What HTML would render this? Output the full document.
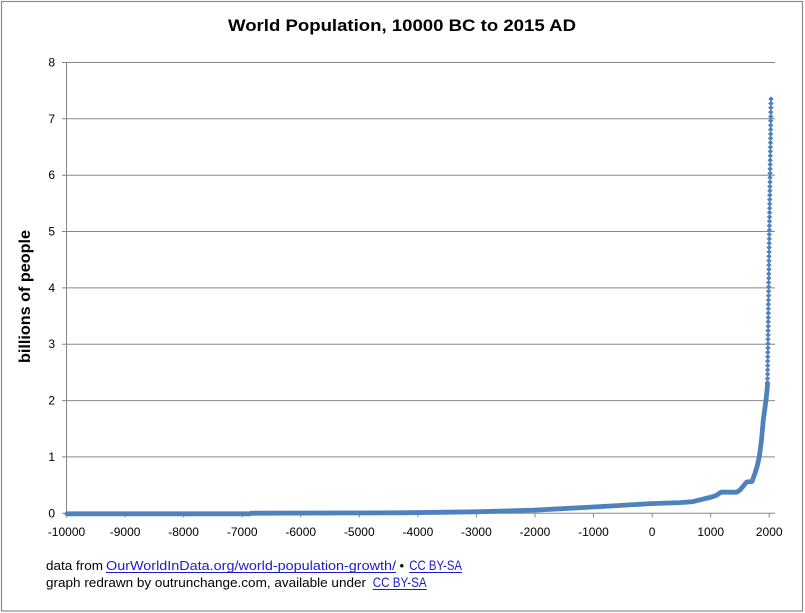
<!DOCTYPE html>
<html><head><meta charset="utf-8"><style>
html,body{margin:0;padding:0;background:#fff;}
svg{display:block;}
</style></head><body>
<svg width="805" height="613" viewBox="0 0 805 613" xmlns="http://www.w3.org/2000/svg" font-family="'Liberation Sans', 'DejaVu Sans', sans-serif">
<rect x="0" y="0" width="805" height="613" fill="#fff"/>
<rect x="1.5" y="1.5" width="801" height="609.5" fill="none" stroke="#8a8a8a" stroke-width="1.2"/>
<text x="402" y="31" text-anchor="middle" font-size="17" font-weight="bold" fill="#000" textLength="348" lengthAdjust="spacingAndGlyphs">World Population,  10000 BC to 2015 AD</text>
<g stroke="#868686" stroke-width="1" fill="none">
<path d="M62,62.5H775M62,118.8H775M62,175.2H775M62,231.5H775M62,287.9H775M62,344.2H775M62,400.6H775M62,456.9H775M62,513.3H775"/>
<path d="M66.5,62V513.3"/>
<path d="M66.5,513V517.5M125.1,513V517.5M183.6,513V517.5M242.2,513V517.5M300.7,513V517.5M359.3,513V517.5M417.9,513V517.5M476.4,513V517.5M535,513V517.5M593.5,513V517.5M652.1,513V517.5M710.7,513V517.5M769.2,513V517.5"/>
</g>
<g font-size="12" fill="#000" text-anchor="end">
<text x="55" y="66.5">8</text>
<text x="55" y="122.8">7</text>
<text x="55" y="179.2">6</text>
<text x="55" y="235.5">5</text>
<text x="55" y="291.9">4</text>
<text x="55" y="348.2">3</text>
<text x="55" y="404.6">2</text>
<text x="55" y="460.9">1</text>
<text x="55" y="517.3">0</text>
</g>
<g font-size="12" fill="#000" text-anchor="middle">
<text x="66.5" y="536">-10000</text>
<text x="125.1" y="536">-9000</text>
<text x="183.6" y="536">-8000</text>
<text x="242.2" y="536">-7000</text>
<text x="300.7" y="536">-6000</text>
<text x="359.3" y="536">-5000</text>
<text x="417.9" y="536">-4000</text>
<text x="476.4" y="536">-3000</text>
<text x="535" y="536">-2000</text>
<text x="593.5" y="536">-1000</text>
<text x="652.1" y="536">0</text>
<text x="710.7" y="536">1000</text>
<text x="769.2" y="536">2000</text>
</g>
<text transform="translate(30,296.5) rotate(-90)" text-anchor="middle" font-size="16" font-weight="bold" fill="#000" textLength="133" lengthAdjust="spacingAndGlyphs">billions of people</text>
<polyline fill="none" stroke="#4F81BD" stroke-width="4.8" stroke-linejoin="round" stroke-linecap="round" points="67,513.8 250,513.8 251,513.2 400,512.8 476,511.8 534,510.2 593,507 651,503.6 680,502.6 693,501.6 711.7,497 716,495.5 721,492.2 736.7,492.2 740,490 746.7,482 752,481.5 755,473.3 757.5,465 759.3,456.7 761.5,440 763.3,420 766,400 767.3,388 767.5,383"/>
<path fill="#4F81BD" stroke="#4F81BD" stroke-width="0.4" d="M771,96.5l2.5,2.5l-2.5,2.5l-2.5,-2.5zM770.9,100.9l2.5,2.5l-2.5,2.5l-2.5,-2.5zM770.9,105.2l2.5,2.5l-2.5,2.5l-2.5,-2.5zM770.8,109.6l2.5,2.5l-2.5,2.5l-2.5,-2.5zM770.8,114l2.5,2.5l-2.5,2.5l-2.5,-2.5zM770.7,118.3l2.5,2.5l-2.5,2.5l-2.5,-2.5zM770.7,122.7l2.5,2.5l-2.5,2.5l-2.5,-2.5zM770.6,127.1l2.5,2.5l-2.5,2.5l-2.5,-2.5zM770.6,131.5l2.5,2.5l-2.5,2.5l-2.5,-2.5zM770.5,135.8l2.5,2.5l-2.5,2.5l-2.5,-2.5zM770.5,140.2l2.5,2.5l-2.5,2.5l-2.5,-2.5zM770.4,144.6l2.5,2.5l-2.5,2.5l-2.5,-2.5zM770.3,148.9l2.5,2.5l-2.5,2.5l-2.5,-2.5zM770.3,153.3l2.5,2.5l-2.5,2.5l-2.5,-2.5zM770.2,157.7l2.5,2.5l-2.5,2.5l-2.5,-2.5zM770.2,162l2.5,2.5l-2.5,2.5l-2.5,-2.5zM770.1,166.4l2.5,2.5l-2.5,2.5l-2.5,-2.5zM770.1,170.8l2.5,2.5l-2.5,2.5l-2.5,-2.5zM770,175.1l2.5,2.5l-2.5,2.5l-2.5,-2.5zM770,179.5l2.5,2.5l-2.5,2.5l-2.5,-2.5zM769.9,183.9l2.5,2.5l-2.5,2.5l-2.5,-2.5zM769.9,188.2l2.5,2.5l-2.5,2.5l-2.5,-2.5zM769.8,192.6l2.5,2.5l-2.5,2.5l-2.5,-2.5zM769.7,197l2.5,2.5l-2.5,2.5l-2.5,-2.5zM769.7,201.4l2.5,2.5l-2.5,2.5l-2.5,-2.5zM769.6,205.7l2.5,2.5l-2.5,2.5l-2.5,-2.5zM769.6,210.1l2.5,2.5l-2.5,2.5l-2.5,-2.5zM769.5,214.5l2.5,2.5l-2.5,2.5l-2.5,-2.5zM769.5,218.8l2.5,2.5l-2.5,2.5l-2.5,-2.5zM769.4,223.2l2.5,2.5l-2.5,2.5l-2.5,-2.5zM769.4,227.6l2.5,2.5l-2.5,2.5l-2.5,-2.5zM769.3,231.9l2.5,2.5l-2.5,2.5l-2.5,-2.5zM769.3,236.3l2.5,2.5l-2.5,2.5l-2.5,-2.5zM769.2,240.7l2.5,2.5l-2.5,2.5l-2.5,-2.5zM769.1,245l2.5,2.5l-2.5,2.5l-2.5,-2.5zM769.1,249.4l2.5,2.5l-2.5,2.5l-2.5,-2.5zM769,253.8l2.5,2.5l-2.5,2.5l-2.5,-2.5zM769,258.2l2.5,2.5l-2.5,2.5l-2.5,-2.5zM768.9,262.5l2.5,2.5l-2.5,2.5l-2.5,-2.5zM768.9,266.9l2.5,2.5l-2.5,2.5l-2.5,-2.5zM768.8,271.3l2.5,2.5l-2.5,2.5l-2.5,-2.5zM768.8,275.6l2.5,2.5l-2.5,2.5l-2.5,-2.5zM768.7,280l2.5,2.5l-2.5,2.5l-2.5,-2.5zM768.7,284.4l2.5,2.5l-2.5,2.5l-2.5,-2.5zM768.6,288.7l2.5,2.5l-2.5,2.5l-2.5,-2.5zM768.6,293.1l2.5,2.5l-2.5,2.5l-2.5,-2.5zM768.5,297.5l2.5,2.5l-2.5,2.5l-2.5,-2.5zM768.4,301.8l2.5,2.5l-2.5,2.5l-2.5,-2.5zM768.4,306.2l2.5,2.5l-2.5,2.5l-2.5,-2.5zM768.3,310.6l2.5,2.5l-2.5,2.5l-2.5,-2.5zM768.3,315l2.5,2.5l-2.5,2.5l-2.5,-2.5zM768.2,319.3l2.5,2.5l-2.5,2.5l-2.5,-2.5zM768.2,323.7l2.5,2.5l-2.5,2.5l-2.5,-2.5zM768.1,328.1l2.5,2.5l-2.5,2.5l-2.5,-2.5zM768.1,332.4l2.5,2.5l-2.5,2.5l-2.5,-2.5zM768,336.8l2.5,2.5l-2.5,2.5l-2.5,-2.5zM768,341.2l2.5,2.5l-2.5,2.5l-2.5,-2.5zM767.9,345.5l2.5,2.5l-2.5,2.5l-2.5,-2.5zM767.8,349.9l2.5,2.5l-2.5,2.5l-2.5,-2.5zM767.8,354.3l2.5,2.5l-2.5,2.5l-2.5,-2.5zM767.7,358.6l2.5,2.5l-2.5,2.5l-2.5,-2.5zM767.7,363l2.5,2.5l-2.5,2.5l-2.5,-2.5zM767.6,367.4l2.5,2.5l-2.5,2.5l-2.5,-2.5zM767.6,371.8l2.5,2.5l-2.5,2.5l-2.5,-2.5zM767.5,376.1l2.5,2.5l-2.5,2.5l-2.5,-2.5zM767.5,380.5l2.5,2.5l-2.5,2.5l-2.5,-2.5z"/>
<g font-size="13" fill="#000">
<text x="46" y="570" textLength="57" lengthAdjust="spacingAndGlyphs">data from</text>
<text x="106" y="570" fill="#1c1cc8" textLength="290" lengthAdjust="spacingAndGlyphs">OurWorldInData.org/world-population-growth/</text>
<text x="399.5" y="570">•</text>
<text x="409.3" y="570" fill="#1c1cc8" font-size="14" textLength="52.7" lengthAdjust="spacingAndGlyphs">CC BY-SA</text>
<text x="46" y="587" textLength="320" lengthAdjust="spacingAndGlyphs">graph redrawn by outrunchange.com, available under</text>
<text x="372.7" y="587" fill="#1c1cc8" font-size="14" textLength="54" lengthAdjust="spacingAndGlyphs">CC BY-SA</text>
</g>
<g stroke="#1c1cc8" stroke-width="1">
<path d="M106,572.5H396M409.3,572.5H462M372.7,589.5H426.7"/>
</g>
</svg>
</body></html>
